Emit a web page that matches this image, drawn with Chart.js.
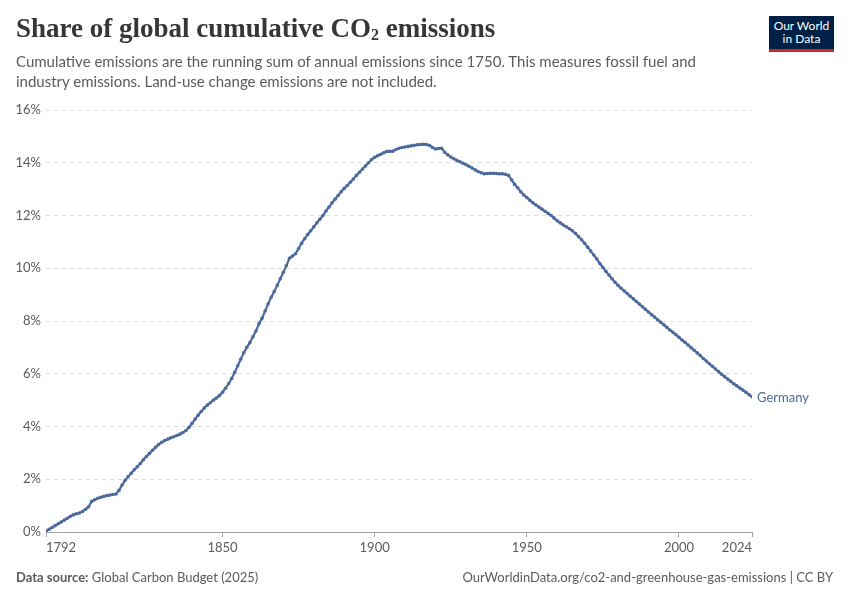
<!DOCTYPE html>
<html>
<head>
<meta charset="utf-8">
<script src="https://cdn.jsdelivr.net/npm/chart.js@4.4.1/dist/chart.umd.min.js"></script>
<style>
  html, body { margin: 0; padding: 0; background: #fff; }
  body { width: 850px; height: 600px; position: relative; overflow: hidden; font-family: Lato, "Noto Sans", sans-serif; }
  #chart { position: absolute; left: 0; top: 0; }
  .title { position: absolute; left: 16px; top: 13px; font-family: "Liberation Serif", "DejaVu Serif", serif; font-weight: bold; font-size: 27px; color: #363636; letter-spacing: 0px; }
  .title sub { font-size: 16px; vertical-align: -3px; }
  .subtitle { position: absolute; left: 16px; top: 52px; width: 720px; font-size: 15px; line-height: 19.5px; color: #5b5b5b; }
  .logo { position: absolute; left: 769px; top: 16px; width: 65px; background: #002147; border-bottom: 3px solid #ce261e; color: #fff; font-size: 12px; line-height: 13px; text-align: center; padding-top: 3px; box-sizing: content-box; height: 30px; }
  .footer { position: absolute; top: 569px; font-size: 13px; color: #5b5b5b; }
  .footer b { font-weight: bold; }
</style>
</head>
<body>
<canvas id="chart" width="850" height="600"></canvas>
<div class="title">Share of global cumulative CO<sub>2</sub> emissions</div>
<div class="subtitle">Cumulative emissions are the running sum of annual emissions since 1750. This measures fossil fuel and industry emissions. Land-use change emissions are not included.</div>
<div class="logo">Our World<br>in Data</div>
<div class="footer" style="left:16px;"><b>Data source:</b> Global Carbon Budget (2025)</div>
<div class="footer" style="right:17px;">OurWorldinData.org/co2-and-greenhouse-gas-emissions | CC BY</div>

<script>
// Germany's share of global cumulative CO2 emissions, %, one value per year from 1792
const startYear = 1792;
const germanyShare = [
  0.04, 0.10, 0.17, 0.24, 0.31, 0.38, 0.45, 0.52,                   // 1792-1799
  0.60, 0.65, 0.69, 0.72, 0.78, 0.86, 0.96, 1.16, 1.22, 1.28,       // 1800s
  1.32, 1.35, 1.38, 1.40, 1.42, 1.44, 1.58, 1.78, 1.96, 2.10,       // 1810s
  2.23, 2.36, 2.47, 2.60, 2.74, 2.86, 2.98, 3.10, 3.21, 3.32,       // 1820s
  3.40, 3.47, 3.52, 3.57, 3.61, 3.66, 3.71, 3.77, 3.85, 3.97,       // 1830s
  4.12, 4.28, 4.43, 4.57, 4.70, 4.81, 4.90, 5.00, 5.08, 5.17,       // 1840s
  5.30, 5.45, 5.62, 5.82, 6.05, 6.30, 6.55, 6.80, 7.00, 7.18,       // 1850s
  7.40, 7.62, 7.90, 8.10, 8.38, 8.65, 8.90, 9.12, 9.35, 9.60,       // 1860s
  9.85, 10.10, 10.38, 10.46, 10.55, 10.75, 10.95, 11.12, 11.28, 11.42, // 1870s
  11.57, 11.72, 11.86, 12.00, 12.17, 12.32, 12.48, 12.62, 12.76, 12.90, // 1880s
  13.03, 13.14, 13.26, 13.38, 13.52, 13.64, 13.76, 13.88, 14.00, 14.12, // 1890s
  14.21, 14.27, 14.32, 14.38, 14.43, 14.43, 14.44, 14.50, 14.55, 14.58, // 1900s
  14.60, 14.62, 14.64, 14.66, 14.68, 14.69, 14.70, 14.69, 14.66, 14.58, // 1910s
  14.52, 14.54, 14.55, 14.40, 14.30, 14.22, 14.15, 14.09, 14.04, 13.98, // 1920s
  13.93, 13.87, 13.80, 13.73, 13.67, 13.62, 13.58, 13.59, 13.60, 13.60, // 1930s
  13.59, 13.58, 13.58, 13.56, 13.52, 13.35, 13.18, 13.05, 12.90, 12.78, // 1940s
  12.68, 12.58, 12.48, 12.40, 12.32, 12.24, 12.16, 12.08, 12.00, 11.90, // 1950s
  11.80, 11.72, 11.64, 11.57, 11.50, 11.42, 11.32, 11.20, 11.08, 10.95, // 1960s
  10.80, 10.65, 10.50, 10.35, 10.18, 10.03, 9.88, 9.74, 9.60, 9.47,     // 1970s
  9.35, 9.24, 9.14, 9.04, 8.94, 8.84, 8.74, 8.64, 8.54, 8.44,          // 1980s
  8.34, 8.24, 8.15, 8.05, 7.95, 7.86, 7.76, 7.66, 7.57, 7.48,          // 1990s
  7.38, 7.28, 7.19, 7.09, 6.99, 6.89, 6.79, 6.69, 6.58, 6.48,          // 2000s
  6.38, 6.28, 6.18, 6.08, 5.98, 5.89, 5.80, 5.71, 5.62, 5.54,          // 2010s
  5.46, 5.38, 5.30, 5.21, 5.13                                         // 2020-2024
];
const xTickYears = [1792, 1850, 1900, 1950, 2000, 2024];
const yTickValues = [0, 2, 4, 6, 8, 10, 12, 14, 16];
const seriesName = 'Germany';
const lineColor = '#4c6a9c';

const points = germanyShare.map((v, i) => ({ x: startYear + i, y: v }));

const endLabel = {
  id: 'endLabel',
  afterDatasetsDraw(chart) {
    const meta = chart.getDatasetMeta(0);
    const last = meta.data[meta.data.length - 1];
    const ctx = chart.ctx;
    ctx.save();
    ctx.font = '13px Lato, "Noto Sans", sans-serif';
    ctx.fillStyle = lineColor;
    ctx.textBaseline = 'middle';
    ctx.fillText(seriesName, last.x + 5, last.y + 1);
    ctx.restore();
  }
};

new Chart(document.getElementById('chart'), {
  type: 'line',
  data: {
    datasets: [{
      label: seriesName,
      data: points,
      borderColor: lineColor,
      backgroundColor: lineColor,
      borderWidth: 2.2,
      pointRadius: 1.8,
      pointBackgroundColor: lineColor,
      pointBorderWidth: 0,
      tension: 0
    }]
  },
  options: {
    responsive: false,
    animation: false,
    layout: { padding: { left: 0, right: 98, top: 110, bottom: 38 } },
    plugins: { legend: { display: false }, tooltip: { enabled: false } },
    scales: {
      x: {
        type: 'linear',
        min: xTickYears[0],
        max: xTickYears[xTickYears.length - 1],
        afterBuildTicks: s => { s.ticks = xTickYears.map(v => ({ value: v })); },
        afterFit: s => { s.height = 30; },
        border: { display: true, color: '#a1a1a1', width: 1 },
        grid: { drawOnChartArea: false, drawTicks: true, tickLength: 5, color: '#a1a1a1' },
        ticks: {
          align: 'inner',
          autoSkip: false,
          maxRotation: 0,
          padding: 3,
          color: '#5b5b5b',
          font: { family: 'Lato', size: 13 },
          callback: v => String(v)
        }
      },
      y: {
        min: 0,
        max: 16,
        afterBuildTicks: s => { s.ticks = yTickValues.map(v => ({ value: v })); },
        afterFit: s => { s.width = 46; },
        border: { display: false, dash: [4, 4] },
        grid: { color: '#dddddd', drawTicks: false, lineWidth: 1 },
        ticks: {
          padding: 5,
          color: '#5b5b5b',
          font: { family: 'Lato', size: 13 },
          callback: v => v + '%'
        }
      }
    }
  },
  plugins: [endLabel]
});
</script>
</body>
</html>
